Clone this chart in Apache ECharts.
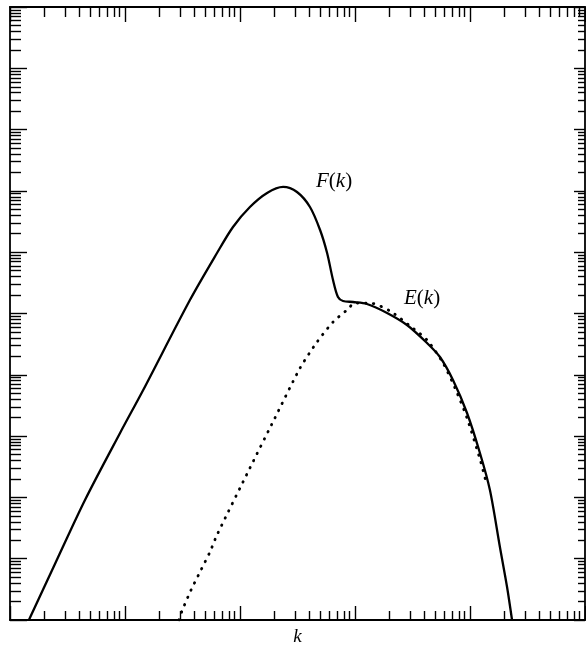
<!DOCTYPE html>
<html>
<head>
<meta charset="utf-8">
<script src="https://cdn.jsdelivr.net/npm/echarts@6/dist/echarts.min.js"></script>
<style>
  html, body { margin: 0; padding: 0; background: #fff; }
  #chart { width: 586px; height: 645px; }
</style>
</head>
<body>
<div id="chart"></div>
<script>
// Wavenumber samples and spectrum values (log-log plot)
const kF = [1.46, 2.46, 4.49, 9.06, 14.4, 36.7, 63.1, 86.9, 122, 172, 237, 313, 406, 497, 572, 644, 711, 787, 962, 1270, 1900, 2830, 4230, 5480, 7110, 9420, 12200, 14900, 18200, 21000, 23200];
const valF = [1, 8.2, 90.8, 1125, 5650, 1.66e5, 9.70e5, 2.58e6, 5.46e6, 9.25e6, 1.16e7, 9.59e6, 5.46e6, 2.30e6, 9.70e5, 3.52e5, 1.86e5, 1.60e5, 1.54e5, 1.43e5, 1.02e5, 6.49e4, 3.30e4, 1.95e4, 8220, 2380, 530, 132, 15.5, 3.45, 1];

const kE = [29.5, 31.3, 37.5, 44.9, 54.8, 63.1, 122, 201, 333, 468, 644, 851, 1000, 1350, 2010, 3010, 4230, 5820, 7410, 9420, 12200, 13800];
const valE = [1, 1.40, 3.08, 6.07, 12.9, 24.4, 302, 1970, 12900, 34300, 72600, 1.14e5, 1.48e5, 1.48e5, 1.10e5, 6.25e4, 3.70e4, 1.56e4, 6090, 1970, 423, 178];

const xDecades = 5;   // k axis: 1 .. 1e5
const yDecades = 10;  // spectrum axis: 1 .. 1e10

// Minor tick positions (2..9 within each decade), in decade units
function minorTicks(decades) {
  const out = [];
  for (let d = 0; d < decades; d++) {
    for (let n = 2; n <= 9; n++) out.push(d + Math.log10(n));
  }
  return out;
}
const minorX = minorTicks(xDecades);
const minorY = minorTicks(yDecades);

const ink = '#000';
const serif = '"Liberation Serif", "DejaVu Serif", serif';

function tickAxis(pos, max, len, custom, showLine) {
  const ax = {
    type: 'value', min: 0, max: max, position: pos,
    axisLine: { show: showLine, onZero: false, lineStyle: { color: ink, width: 1.8 } },
    axisTick: { show: true, inside: true, length: len, lineStyle: { color: ink, width: 1.4 } },
    axisLabel: { show: false },
    splitLine: { show: false },
    silent: true
  };
  if (custom) ax.axisTick.customValues = custom;
  else ax.interval = 1;
  return ax;
}

const chart = echarts.init(document.getElementById('chart'), null, { renderer: 'canvas' });
chart.setOption({
  animation: false,
  backgroundColor: '#fff',
  grid: { left: 10, right: 1, top: 7, bottom: 25, containLabel: false, outerBoundsMode: 'none' },
  xAxis: [
    { type: 'log', min: 1, max: 1e5, show: false },
    Object.assign(tickAxis('bottom', xDecades, 14, null, true), {
      name: 'k', nameLocation: 'middle', nameGap: 7,
      nameTextStyle: { fontFamily: serif, fontStyle: 'italic', fontSize: 19, color: ink, verticalAlign: 'top' }
    }),
    tickAxis('bottom', xDecades, 9, minorX, false),
    tickAxis('top', xDecades, 15, null, true),
    tickAxis('top', xDecades, 10, minorX, false)
  ],
  yAxis: [
    { type: 'log', min: 1, max: 1e10, show: false },
    tickAxis('left', yDecades, 17, null, true),
    tickAxis('left', yDecades, 11, minorY, false),
    tickAxis('right', yDecades, 11, null, true),
    tickAxis('right', yDecades, 7, minorY, false)
  ],
  series: [
    {
      name: 'F(k)', type: 'line', xAxisIndex: 0, yAxisIndex: 0,
      data: kF.map((k, i) => [k, valF[i]]),
      showSymbol: false, smooth: 0.3, clip: true,
      lineStyle: { color: ink, width: 2.3 }
    },
    {
      name: 'E(k)', type: 'line', xAxisIndex: 0, yAxisIndex: 0,
      data: kE.map((k, i) => [k, valE[i]]),
      showSymbol: false, smooth: 0.25, clip: true,
      lineStyle: { color: ink, width: 2.8, type: [0.5, 7.5], cap: 'round' }
    }
  ],
  graphic: [
    {
      type: 'text', left: 316, top: 171,
      style: {
        text: '{i|F}({i|k})',
        font: '21px ' + serif, fill: ink,
        rich: { i: { fontStyle: 'italic', fontFamily: serif, fontSize: 21, fill: ink } }
      }
    },
    {
      type: 'text', left: 404, top: 288,
      style: {
        text: '{i|E}({i|k})',
        font: '21px ' + serif, fill: ink,
        rich: { i: { fontStyle: 'italic', fontFamily: serif, fontSize: 21, fill: ink } }
      }
    }
  ]
});
</script>
</body>
</html>
